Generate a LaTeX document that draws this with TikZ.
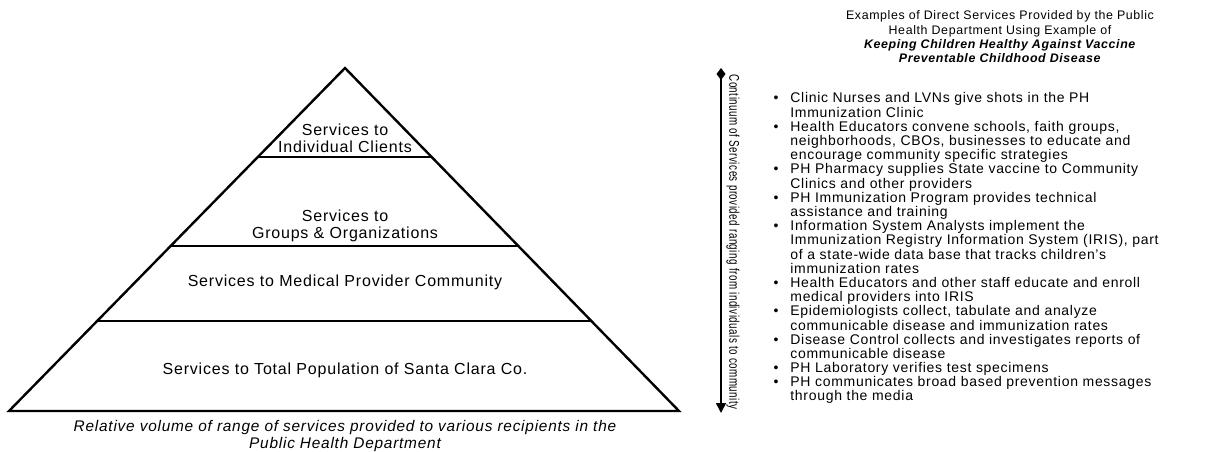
\documentclass[tikz,border=0pt]{standalone}
\usepackage{fontspec}
\setmainfont{Liberation Sans}[LetterSpace=5]
\usetikzlibrary{arrows.meta,positioning,calc}

\tikzset{
  tierline/.style={line width=1.2pt, line join=miter},
  tier/.style={font=\fontsize{8}{8.5}\selectfont, align=center, inner sep=0pt},
  caption/.style={font=\fontsize{7.7}{7}\selectfont\itshape, align=center, inner sep=0pt},
  heading/.style={font=\fontsize{6.2}{7.15}\selectfont, align=center, inner sep=0pt},
  item/.style={font=\fontsize{7}{7.1}\selectfont, align=left, anchor=north west, inner sep=0pt},
}
\newcommand{\bul}{\rule{0pt}{6pt}\makebox[0pt][r]{\textbullet\hspace{6pt}}}

\begin{document}
\begin{tikzpicture}[x=0.5pt,y=-0.5pt]
  \useasboundingbox (0,0) rectangle (1209,451);

  % pyramid of recipients
  \coordinate (apex) at (345,68);
  \coordinate (bl) at (9,411);
  \coordinate (br) at (679,411);
  \draw[tierline] (apex) -- (br) -- (bl) -- cycle;
  \foreach \t in {0.26,0.519,0.738}
    \draw[line width=1pt] ($(apex)!\t!(bl)$) -- ($(apex)!\t!(br)$);

  \node[tier] (indiv) at (345,138) {Services to\\Individual Clients};
  \node[tier] (groups) at (345,226) {Services to\\Groups \& Organizations};
  \node[tier] (medical) at (345,282) {Services to Medical Provider Community};
  \node[tier] (total) at (345,370) {Services to Total Population of Santa Clara Co.};
  \node[caption] (cap) at (345,436) {Relative volume of range of services provided to various recipients in the\\Public Health Department};

  % continuum arrow
  \coordinate (ctop) at (721,68);
  \coordinate (cbot) at (721,413);
  \draw[{Diamond[length=6pt,width=4.5pt]}-{Triangle[length=5pt,width=5pt]}, line width=0.8pt] (ctop) -- (cbot);
  \node[rotate=-90, inner sep=0pt, font=\fontsize{7}{7}\selectfont] (cont) at (733,242)
    {\scalebox{0.70}[1]{Continuum of Services provided ranging from individuals to community}};

  % examples
  \node[heading] (head) at (1000,37) {Examples of Direct Services Provided by the Public\\Health Department Using Example of\\\textbf{\textit{Keeping Children Healthy Against Vaccine}}\\\textbf{\textit{Preventable Childhood Disease}}};

  \node[item] (i1) at (790,90.5) {\bul Clinic Nurses and LVNs give shots in the PH\\Immunization Clinic};
  \node[item] (i2) at (790,118.9) {\bul Health Educators convene schools, faith groups,\\neighborhoods, CBOs, businesses to educate and\\encourage community specific strategies};
  \node[item] (i3) at (790,161.5) {\bul PH Pharmacy supplies State vaccine to Community\\Clinics and other providers};
  \node[item] (i4) at (790,189.8) {\bul PH Immunization Program provides technical\\assistance and training};
  \node[item] (i5) at (790,218.2) {\bul Information System Analysts implement the\\Immunization Registry Information System (IRIS), part\\of a state-wide data base that tracks children's\\immunization rates};
  \node[item] (i6) at (790,275.0) {\bul Health Educators and other staff educate and enroll\\medical providers into IRIS};
  \node[item] (i7) at (790,303.4) {\bul Epidemiologists collect, tabulate and analyze\\communicable disease and immunization rates};
  \node[item] (i8) at (790,331.7) {\bul Disease Control collects and investigates reports of\\communicable disease};
  \node[item] (i9) at (790,360.1) {\bul PH Laboratory verifies test specimens};
  \node[item] (i10) at (790,374.3) {\bul PH communicates broad based prevention messages\\through the media};
\end{tikzpicture}
\end{document}
